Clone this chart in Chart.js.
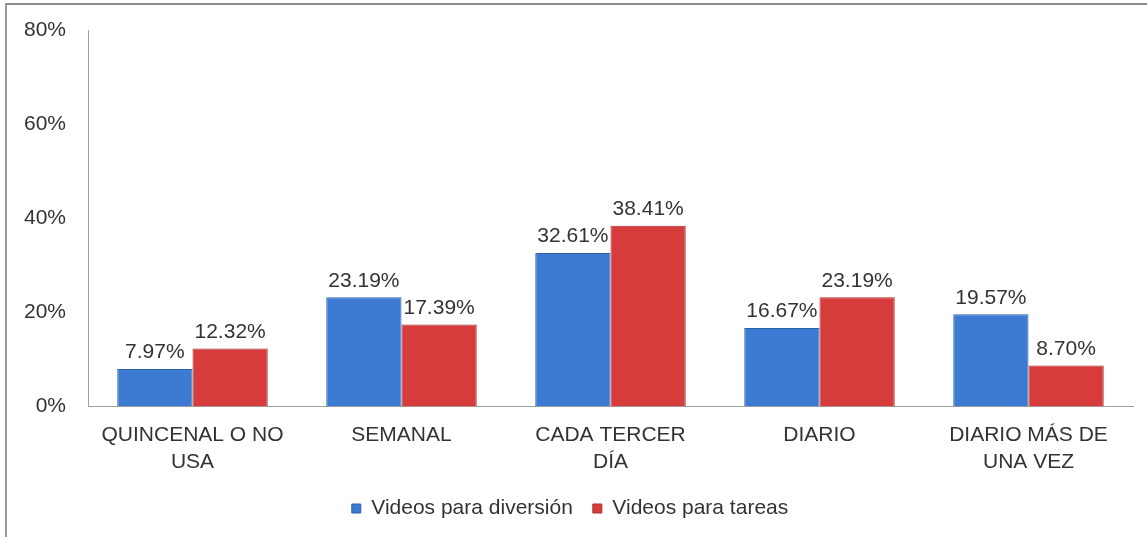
<!DOCTYPE html>
<html>
<head>
<meta charset="utf-8">
<script src="https://cdn.jsdelivr.net/npm/chart.js@4.4.1/dist/chart.umd.min.js"></script>
<style>
  html, body { margin: 0; padding: 0; background: #fff; }
  #wrap {
    position: absolute; left: 5px; top: 3px;
    width: 1142px; height: 534px;
    border-top: 2px solid #8a8a8a; border-left: 2px solid #9a9a9a;
    box-sizing: border-box;
  }
</style>
</head>
<body>
<div id="wrap"><canvas id="myChart"></canvas></div>
<script>
const categories = [
  ['QUINCENAL O NO', 'USA'],
  'SEMANAL',
  ['CADA TERCER', 'DÍA'],
  'DIARIO',
  ['DIARIO MÁS DE', 'UNA VEZ'],
];
const diversion = [7.97, 23.19, 32.61, 16.67, 19.57];
const tareas = [12.32, 17.39, 38.41, 23.19, 8.70];
const yTicks = [0, 20, 40, 60, 80];

const font = 'Arial, "Liberation Sans", sans-serif';

// value labels above every bar
const valueLabels = {
  id: 'valueLabels',
  afterDatasetsDraw(chart) {
    const c = chart.ctx;
    c.save();
    c.font = '21px ' + font;
    c.fillStyle = '#333';
    c.textAlign = 'center';
    c.textBaseline = 'bottom';
    chart.data.datasets.forEach((ds, i) => {
      chart.getDatasetMeta(i).data.forEach((bar, j) => {
        c.fillText(ds.data[j].toFixed(2) + '%', bar.x, bar.y - 6);
      });
    });
    c.restore();
  },
};

const ctx = document.getElementById('myChart');
const myChart = new Chart(ctx, {
  type: 'bar',
  data: {
    labels: categories,
    datasets: [
      {
        label: 'Videos para diversión',
        data: diversion,
        backgroundColor: '#3c7bd1',
        borderColor: '#2d62a8',
        borderWidth: 1,
      },
      {
        label: 'Videos para tareas',
        data: tareas,
        backgroundColor: '#d63c3c',
        borderColor: '#a92e2e',
        borderWidth: 1,
      },
    ],
  },
  plugins: [valueLabels],
  options: {
    animation: false,
    responsive: true,
    maintainAspectRatio: false,
    layout: {
      padding: { left: 0, right: 14, top: 25, bottom: 8 },
    },
    datasets: {
      bar: {
        categoryPercentage: 0.72,
        barPercentage: 1,
      },
    },
    scales: {
      x: {
        grid: { display: false, drawTicks: false },
        border: { display: true, color: '#a0a0a0', width: 1 },
        afterFit: (axis) => {
          axis.height -= 13;
        },
        ticks: {
          color: '#333',
          font: { size: 21, family: font, lineHeight: 1.3 },
          padding: 15,
          maxRotation: 0,
          autoSkip: false,
        },
      },
      y: {
        min: 0,
        max: 80,
        afterBuildTicks: (axis) => {
          axis.ticks = yTicks.map((v) => ({ value: v }));
        },
        afterFit: (axis) => {
          axis.width = 81;
          axis.paddingTop = 0;
        },
        grid: { display: false, drawTicks: false },
        border: { display: true, color: '#a0a0a0', width: 1 },
        ticks: {
          color: '#333',
          font: { size: 21, family: font },
          padding: 22,
          callback: (v) => v + '%',
        },
      },
    },
    plugins: {
      legend: {
        position: 'bottom',
        labels: {
          color: '#333',
          font: { size: 21, family: font },
          boxWidth: 9,
          boxHeight: 9,
          padding: 20,
        },
      },
      tooltip: { enabled: false },
    },
  },
});
</script>
</body>
</html>
